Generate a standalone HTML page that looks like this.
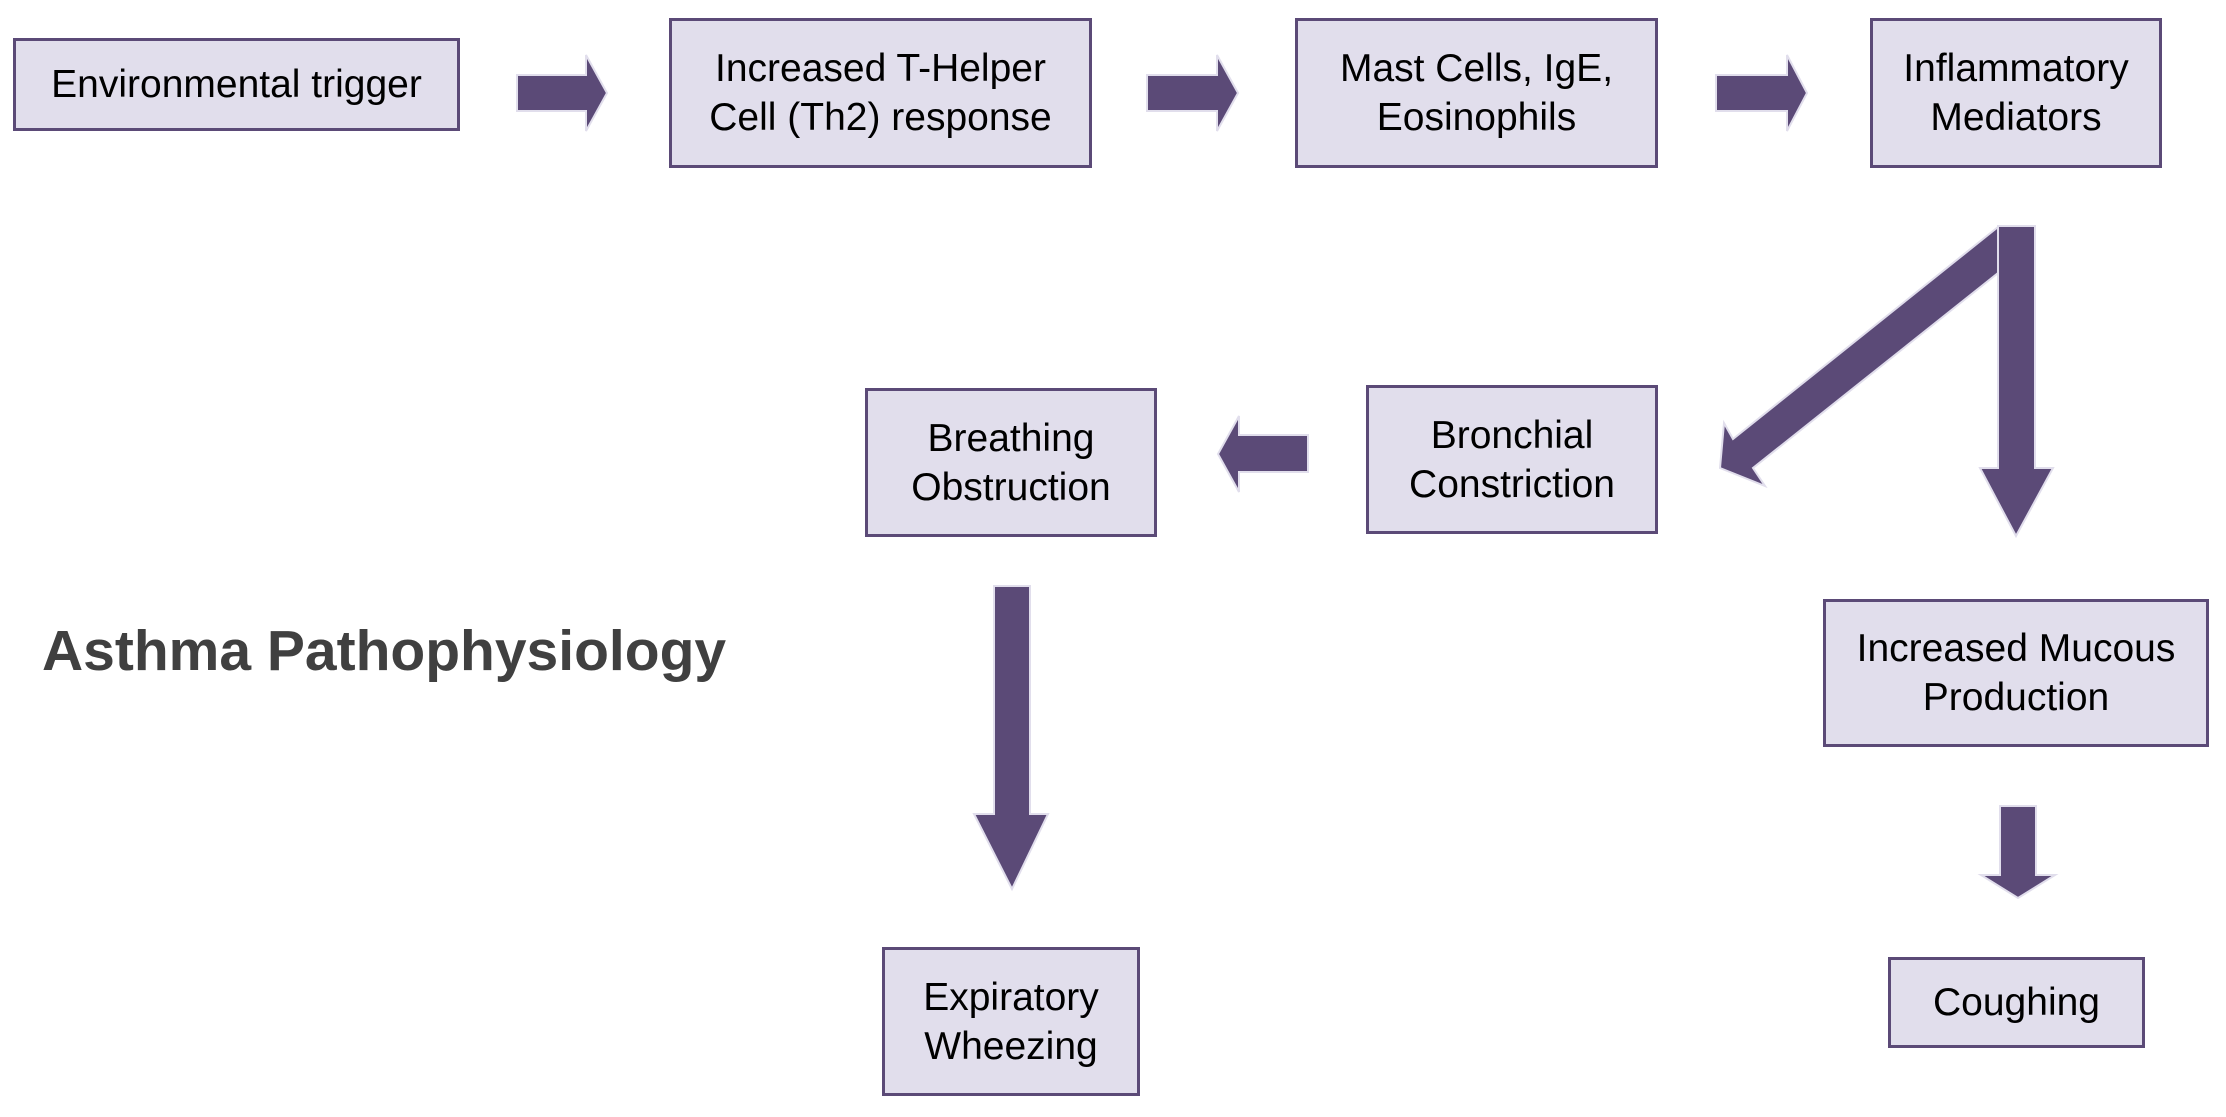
<!DOCTYPE html>
<html><head><meta charset="utf-8"><style>
html,body{margin:0;padding:0;background:#fff;}
body{width:2226px;height:1117px;position:relative;overflow:hidden;font-family:"Liberation Sans",Arial,sans-serif;}
.b{position:absolute;box-sizing:border-box;background:#e1deec;border:3px solid #5b4a77;display:flex;align-items:center;justify-content:center;text-align:center;font-size:39px;line-height:49px;color:#000;}
.t{position:absolute;left:42px;top:618px;font-size:57px;font-weight:bold;color:#404040;white-space:nowrap;}
svg{position:absolute;left:0;top:0;}
</style></head><body>
<svg width="2226" height="1117" viewBox="0 0 2226 1117">
<g fill="#5b4a77" stroke="#e1deec" stroke-width="2">
<polygon points="517,75 586,75 586,55 607,93 586,131 586,111 517,111"/>
<polygon points="1147,75 1217,75 1217,55 1238,93 1217,131 1217,111 1147,111"/>
<polygon points="1716,75 1787,75 1787,55 1807,93 1787,131 1787,111 1716,111"/>
<polygon points="1308,435 1239,435 1239,416 1218,454 1239,492 1239,472 1308,472"/>
<polygon points="1998,227 1733,439 1724,423 1720,468 1765,486 1753,468 1998,273"/>
<polygon points="1998,226 2035,226 2035,468 2053,468 2016,536 1980,468 1998,468"/>
<polygon points="994,586 1030,586 1030,814 1048,814 1012,889 974,814 994,814"/>
<polygon points="2000,806 2036,806 2036,875 2055,875 2018,898 1981,875 2000,875"/>
</g>
</svg>
<div class="b" style="left:13px;top:38px;width:447px;height:93px;">Environmental trigger</div>
<div class="b" style="left:669px;top:18px;width:423px;height:150px;">Increased T-Helper<br>Cell (Th2) response</div>
<div class="b" style="left:1295px;top:18px;width:363px;height:150px;">Mast Cells, IgE,<br>Eosinophils</div>
<div class="b" style="left:1870px;top:18px;width:292px;height:150px;">Inflammatory<br>Mediators</div>
<div class="b" style="left:865px;top:388px;width:292px;height:149px;">Breathing<br>Obstruction</div>
<div class="b" style="left:1366px;top:385px;width:292px;height:149px;">Bronchial<br>Constriction</div>
<div class="b" style="left:1823px;top:599px;width:386px;height:148px;">Increased Mucous<br>Production</div>
<div class="b" style="left:882px;top:947px;width:258px;height:149px;">Expiratory<br>Wheezing</div>
<div class="b" style="left:1888px;top:957px;width:257px;height:91px;">Coughing</div>
<div class="t">Asthma Pathophysiology</div>
</body></html>
